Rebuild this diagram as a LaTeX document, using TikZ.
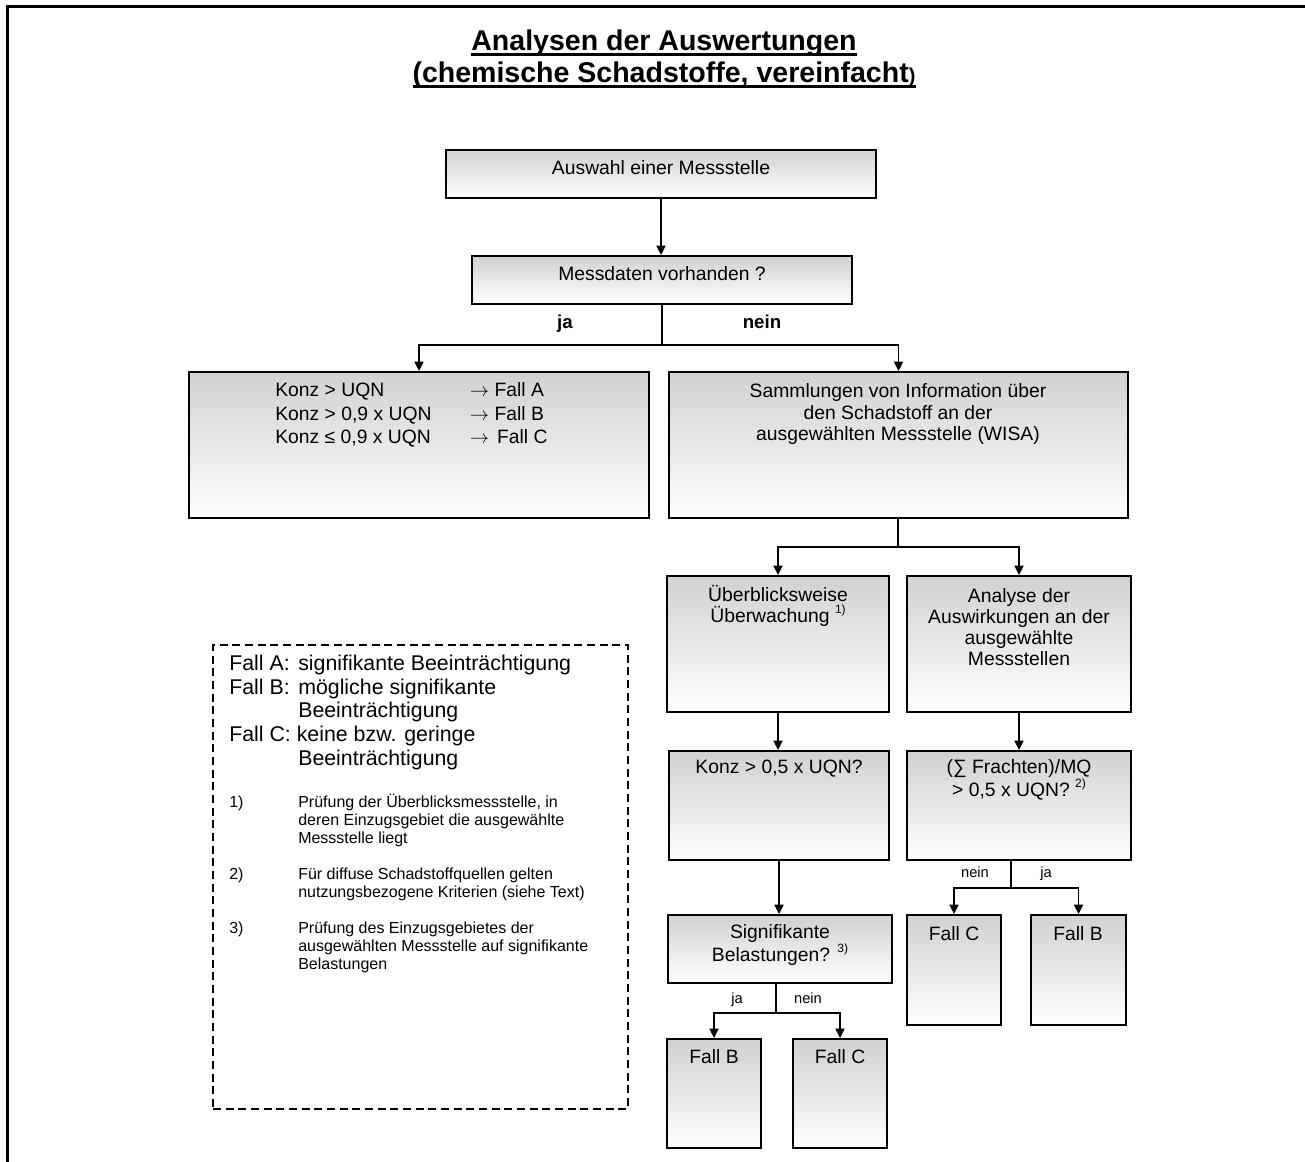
\documentclass[tikz,border=0pt]{standalone}
\usepackage{fontspec}
\setmainfont{Liberation Sans}
\usetikzlibrary{arrows.meta,fit,calc}

% underline drawn just below the baseline
\newcommand\ulbar[1]{\setbox0=\hbox{#1}\leavevmode\rlap{\vrule width\wd0 height -1.6pt depth 3.4pt}\box0}
% small raised footnote mark
\newcommand\fnmark[1]{\raisebox{0.45em}{\fontsize{9}{9}\selectfont #1}}
% long thin arrow
\newcommand\toarr{$\rightarrow$}

\tikzset{
  flowbox/.style={draw, line width=1.5pt, top color=black!18, bottom color=white, inner sep=0pt},
  boxtext/.style={inner sep=0pt, align=center, font=\fontsize{14.5}{16}\selectfont},
  conn/.style={line width=1pt},
  arr/.style={line width=1pt, -{Triangle[width=6.8pt,length=7pt]}},
  branch/.style={anchor=base, inner sep=0pt, font=\fontsize{11}{12}\selectfont},
  branchbold/.style={anchor=base, inner sep=0pt, font=\bfseries\fontsize{14}{16}\selectfont},
  legendline/.style={anchor=base west, inner sep=0pt, font=\fontsize{16}{18}\selectfont},
  noteline/.style={anchor=base west, inner sep=0pt, font=\fontsize{12}{13.5}\selectfont},
  titletext/.style={anchor=base, inner sep=0pt, font=\bfseries\fontsize{21.4}{24}\selectfont},
}

\begin{document}
\begin{tikzpicture}[x=0.75pt,y=-0.75pt]
\useasboundingbox (0,0) rectangle (1305,1162);

% page frame
\draw[line width=2.25pt] (7,1162) -- (7,7) -- (1305,7);

% title
\node[titletext] (title1) at (664,51) {\ulbar{Analysen der Auswertungen}};
\node[titletext] (title2) at (664,83) {\ulbar{(chemische Schadstoffe, vereinfacht{\fontsize{15}{16}\selectfont)}}};

% boxes
\node[flowbox, fit={(446,150)(876,198)}] (b1) {};
\node[boxtext] (t1) at (661,168) {Auswahl einer Messstelle};

\node[flowbox, fit={(472,256)(852,304)}] (b2) {};
\node[boxtext] (t2) at (662,274) {Messdaten vorhanden ?};

\node[flowbox, fit={(189,372)(649,518)}] (b3) {};
\node[anchor=west, inner sep=0pt, align=left, font=\fontsize{14.5}{17.6}\selectfont] (t3) at (275,415)
  {\makebox[146pt][l]{Konz > UQN}\toarr\ Fall A\\
   \makebox[146pt][l]{Konz > 0,9 x UQN}\toarr\ Fall B\\
   \makebox[146pt][l]{Konz ≤ 0,9 x UQN}\toarr\hspace{6pt}Fall C};

\node[flowbox, fit={(669,372)(1128,518)}] (b4) {};
\node[boxtext, font=\fontsize{14.5}{16.1}\selectfont] (t4) at (898,414)
  {Sammlungen von Information über\\den Schadstoff an der\\ausgewählten Messstelle (WISA)};

\node[flowbox, fit={(667,576)(889,712)}] (b5) {};
\node[boxtext, font=\fontsize{14.5}{15.6}\selectfont] (t5) at (778,606)
  {Überblicksweise\\Überwachung \fnmark{1)}};

\node[flowbox, fit={(907,576)(1131,712)}] (b6) {};
\node[boxtext, font=\fontsize{14.5}{15.6}\selectfont] (t6) at (1019,627)
  {Analyse der\\Auswirkungen an der\\ausgewählte\\Messstellen};

\node[flowbox, fit={(669,751)(889,860)}] (b7) {};
\node[boxtext] (t7) at (779,769) {Konz > 0,5 x UQN?};

\node[flowbox, fit={(907,751)(1131,860)}] (b8) {};
\node[boxtext, font=\fontsize{14.5}{15.7}\selectfont] (t8) at (1019,780)
  {(∑ Frachten)/MQ\\> 0,5 x UQN? \fnmark{2)}};

\node[flowbox, fit={(668,915)(892,983)}] (b9) {};
\node[boxtext, font=\fontsize{14.5}{15.7}\selectfont] (t9) at (780,945)
  {Signifikante\\Belastungen? \fnmark{3)}};

\node[flowbox, fit={(907,915)(1001,1025)}] (b10) {};
\node[boxtext] (t10) at (954,934) {Fall C};
\node[flowbox, fit={(1031,915)(1126,1025)}] (b11) {};
\node[boxtext] (t11) at (1078,934) {Fall B};

\node[flowbox, fit={(667,1039)(761,1148)}] (b12) {};
\node[boxtext] (t12) at (714,1057) {Fall B};
\node[flowbox, fit={(793,1039)(887,1148)}] (b13) {};
\node[boxtext] (t13) at (840,1057) {Fall C};

% junction points
\coordinate (j1) at (662,345);
\coordinate (j2) at (898,547);
\coordinate (j3) at (1011,888);
\coordinate (j4) at (776,1013);

% connectors
\draw[arr] (b1.south) -- (b1.south |- b2.north);
\draw[conn] (j1 |- b2.south) -- (j1);
\draw[arr] (j1) -| (b3.north);
\draw[arr] (j1) -| (b4.north);
\draw[conn] (j2 |- b4.south) -- (j2);
\draw[arr] (j2) -| (b5.north);
\draw[arr] (j2) -| (b6.north);
\draw[arr] (b5.south) -- (b5.south |- b7.north);
\draw[arr] (b6.south) -- (b6.south |- b8.north);
\draw[arr] (b7.south) -- (b7.south |- b9.north);
\draw[conn] (j3 |- b8.south) -- (j3);
\draw[arr] (j3) -| (b10.north);
\draw[arr] (j3) -| (b11.north);
\draw[conn] (j4 |- b9.south) -- (j4);
\draw[arr] (j4) -| (b12.north);
\draw[arr] (j4) -| (b13.north);

% branch labels
\node[branchbold] (ja1) at (565,329) {ja};
\node[branchbold] (nein1) at (762,329) {nein};
\node[branch] (nein2) at (975,877) {nein};
\node[branch] (ja2) at (1046,877) {ja};
\node[branch] (ja3) at (737,1003) {ja};
\node[branch] (nein3) at (808,1003) {nein};

% legend
\node[draw, line width=1.4pt, dash pattern=on 6pt off 3.5pt, inner sep=0pt, fit={(213,645)(628,1109)}] (legend) {};
\node[legendline] (lg1) at (229,670) {\makebox[51.75pt][l]{Fall A:}signifikante Beeinträchtigung};
\node[legendline] (lg2) at (229,694) {\makebox[51.75pt][l]{Fall B:}mögliche signifikante};
\node[legendline] (lg3) at (298,717) {Beeinträchtigung};
\node[legendline] (lg4) at (229,741) {Fall C: keine bzw. geringe};
\node[legendline] (lg5) at (298,765) {Beeinträchtigung};

\node[noteline] (n1) at (229,807) {1)};
\node[noteline] (n1a) at (298,807) {Prüfung der Überblicksmessstelle, in};
\node[noteline] (n1b) at (298,825) {deren Einzugsgebiet die ausgewählte};
\node[noteline] (n1c) at (298,843) {Messstelle liegt};
\node[noteline] (n2) at (229,879) {2)};
\node[noteline] (n2a) at (298,879) {Für diffuse Schadstoffquellen gelten};
\node[noteline] (n2b) at (298,897) {nutzungsbezogene Kriterien (siehe Text)};
\node[noteline] (n3) at (229,933) {3)};
\node[noteline] (n3a) at (298,933) {Prüfung des Einzugsgebietes der};
\node[noteline] (n3b) at (298,951) {ausgewählten Messstelle auf signifikante};
\node[noteline] (n3c) at (298,969) {Belastungen};
\end{tikzpicture}
\end{document}
